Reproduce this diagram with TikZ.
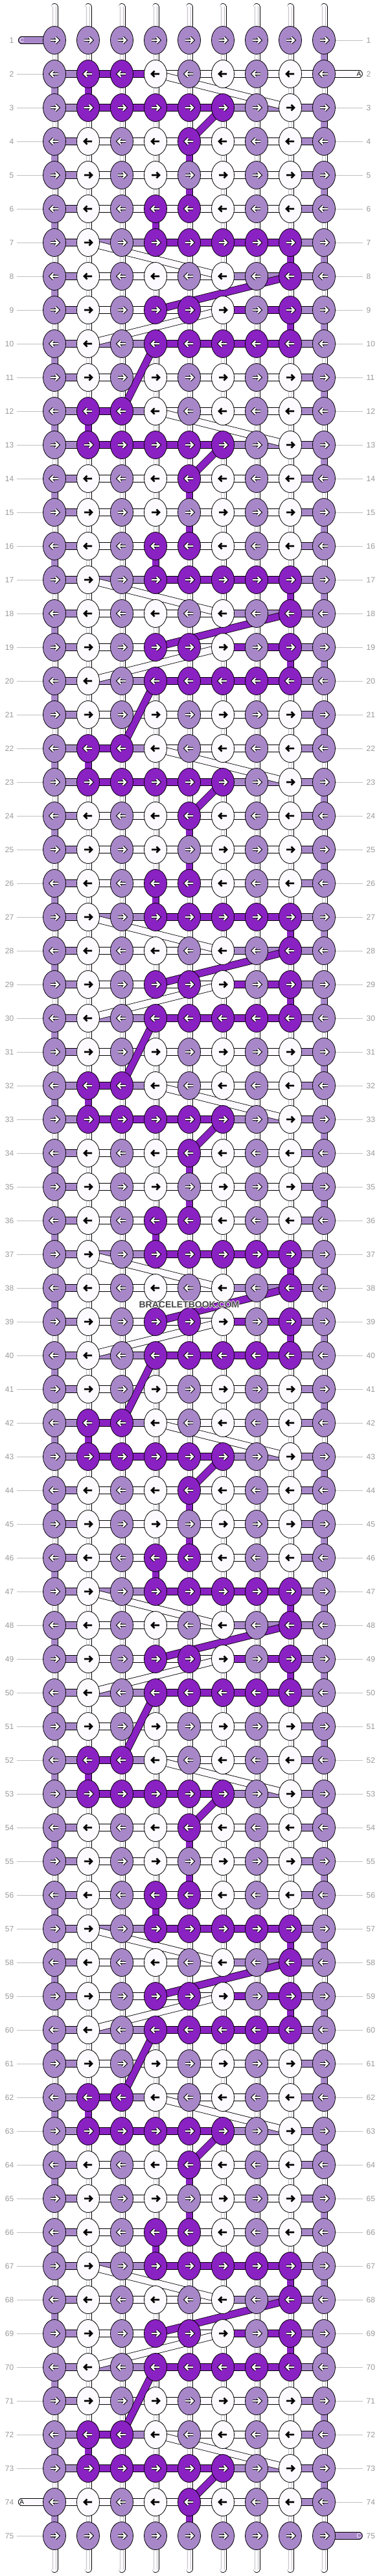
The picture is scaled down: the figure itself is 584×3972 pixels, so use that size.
\documentclass[tikz,border=0pt]{standalone}
\usepackage{fontspec}
\setmainfont{Liberation Sans}
\usetikzlibrary{shapes.geometric}

\definecolor{colL}{HTML}{A887C9}
\definecolor{colD}{HTML}{8A21C3}
\definecolor{colW}{HTML}{FCFAFE}
\definecolor{numgray}{HTML}{999999}
\definecolor{linegray}{HTML}{C0C0C0}
\definecolor{tubegray}{HTML}{C4C4C4}
\definecolor{markgray}{HTML}{454545}

\tikzset{
knot/.style={ellipse,draw=black,line width=0.8pt,minimum width=35pt,minimum height=43pt,inner sep=0pt},
thread/.style={draw=black,line width=0.8pt,double=#1,double distance=10pt},
vthread/.style={thread=#1,double distance=9.4pt},
tube/.style={draw=tubegray,line width=0.7pt,double=colW,double distance=4.2pt},
arrout/.style={draw=black,line width=4.4pt,line cap=square},
arrin/.style={draw=white,line width=2.2pt,line cap=square},
arrblk/.style={draw=black,line width=2.6pt},
rownum/.style={font=\fontsize{12}{12}\selectfont,text=numgray,inner sep=0pt},
rowline/.style={draw=linegray,line width=0.9pt},
endtag/.style={font=\fontsize{10}{10}\selectfont,inner sep=0pt}
}

\newcommand\arrowpath[2]{(#1) ++(-6*#2,0) -- ++(11*#2,0) (#1) ++(1.5*#2,-4.5) -- ++(4.5*#2,4.5) -- ++(-4.5*#2,4.5)}
\newcommand\halo[1]{\leavevmode
  \rlap{\hspace{-0.9pt}\textcolor{white}{#1}}\rlap{\hspace{0.9pt}\textcolor{white}{#1}}%
  \rlap{\raisebox{0.9pt}{\textcolor{white}{#1}}}\rlap{\raisebox{-0.9pt}{\textcolor{white}{#1}}}%
  #1}

% knots / horizontal threads / threads going down, rows 2 to 11
\newcommand\motif{%
0/{L,D,D,W,L,W,L,W,L}/{L,D,L,W,W,W,W,L}/{L,D,W,W,W,W,W,W,W},%
1/{L,D,D,D,D,D,L,W,L}/{L,D,D,D,D,L,L,L}/{W,W,W,W,W,W,W,W,L},%
2/{L,W,L,W,D,W,L,W,L}/{L,W,W,W,W,W,W,L}/{L,W,W,W,D,W,W,W,W},%
3/{L,W,L,W,L,W,L,W,L}/{L,W,W,W,W,W,W,L}/{W,W,W,W,D,W,W,W,L},%
4/{L,W,L,D,D,W,L,W,L}/{L,W,W,W,W,W,W,L}/{L,W,W,D,W,W,W,W,W},%
5/{L,W,L,D,D,D,D,D,L}/{L,L,L,D,D,D,D,L}/{W,W,W,W,W,W,W,D,L},%
6/{L,W,L,W,L,W,L,D,L}/{L,W,W,W,W,L,L,L}/{L,W,W,W,W,W,W,W,W},%
7/{L,W,L,D,D,W,L,D,L}/{L,W,W,W,W,D,D,L}/{W,W,W,W,W,W,W,D,L},%
8/{L,W,L,D,D,D,D,D,L}/{L,L,L,D,D,D,D,L}/{L,W,W,W,W,W,W,W,W},%
9/{L,W,L,W,L,W,L,W,L}/{L,W,W,W,W,W,W,L}/{W,W,W,W,W,W,W,W,L}}

\begin{document}
\begin{tikzpicture}[x=1pt,y=-1pt]
\fill[white] (0,0) rectangle (584,3972);
\useasboundingbox (0,0) rectangle (584,3972);

\foreach \n in {1,...,75}
  \foreach \i in {1,...,9}
    \coordinate (p-\n-\i) at ({32+52*\i},{10+52*\n});

\foreach \i in {1,...,9}{
  \coordinate (t-\i) at ({32+52*\i},10.5);
  \coordinate (b-\i) at ({32+52*\i},3961.5);
  \draw[vthread=colW,line cap=round] (t-\i) -- (p-1-\i);
  \draw[tube] (t-\i) -- (p-1-\i);
  \draw[vthread=colW,line cap=round] (p-75-\i) -- (b-\i);
  \draw[tube] (p-75-\i) -- (b-\i);
}

\foreach \n in {1,...,75}{
  \node[rownum,anchor=east] (ll-\n) at (21.5,{10+52*\n}) {\n};
  \node[rownum,anchor=west] (rl-\n) at (565.5,{10+52*\n}) {\n};
  \ifnum\n=1 \else\ifnum\n=74 \else \draw[rowline,shorten <=4.5pt] (ll-\n.east) -- (p-\n-1); \fi\fi
  \ifnum\n=2 \else\ifnum\n=75 \else \draw[rowline,shorten <=5.5pt] (rl-\n.west) -- (p-\n-9); \fi\fi
}

\foreach \n in {1,75}
  \foreach \i [evaluate=\i as \j using int(\i+1)] in {1,...,8}
    \draw[thread=colL] (p-\n-\i) -- (p-\n-\j);
\foreach \vc [count=\i] in {W,W,W,W,W,W,W,W,L}{
  \draw[vthread=col\vc] (p-1-\i) -- (p-2-\i);
  \if W\vc \draw[tube] (p-1-\i) -- (p-2-\i); \fi
}

\foreach \p/\kn/\hz/\vt in \motif {
  \foreach \k in {0,...,7}{
    \pgfmathtruncatemacro\n{2+10*\k+\p}
    \pgfmathtruncatemacro\m{\n+1}
    \ifnum\n<75
      \foreach \hc [count=\i] in \hz {
        \pgfmathtruncatemacro\j{\i+1}
        \draw[thread=col\hc] (p-\n-\i) -- (p-\n-\j);
      }
      \foreach \vc [count=\i] in \vt {
        \draw[vthread=col\vc] (p-\n-\i) -- (p-\m-\i);
        \if W\vc \draw[tube] (p-\n-\i) -- (p-\m-\i); \fi
      }
    \fi
  }
}

\draw[thread=colD] (p-2-3) -- (p-2-4);
\draw[thread=colW] (p-2-8) -- (p-2-9);
\draw[thread=colW] (p-74-1) -- (p-74-2);

\coordinate (endC1) at (33.75,62);
\coordinate (endA2) at (554,114);
\coordinate (endA74) at (33.75,3858);
\coordinate (endC75) at (554,3910);
\draw[thread=colL,line cap=round] (p-1-1) -- (endC1);
\draw[thread=colW,line cap=round] (p-2-9) -- (endA2);
\draw[thread=colW,line cap=round] (p-74-1) -- (endA74);
\draw[thread=colL,line cap=round] (p-75-9) -- (endC75);
\node[endtag,text=colW] (tagC1) at (endC1) {C};
\node[endtag] (tagA2) at (endA2) {A};
\node[endtag] (tagA74) at (endA74) {A};
\node[endtag,text=colW] (tagC75) at (endC75) {C};

\foreach \k in {0,...,7}
  \foreach \dc/\ra/\ca/\rb/\cb in {W/0/4/1/8,D/1/6/2/5,W/5/2/6/6,D/6/8/7/4,W/7/6/8/2,D/8/4/10/3}{
    \pgfmathtruncatemacro\na{2+10*\k+\ra}
    \pgfmathtruncatemacro\nb{2+10*\k+\rb}
    \ifnum\nb<75 \draw[thread=col\dc] (p-\na-\ca) -- (p-\nb-\cb); \fi
  }

\foreach \n in {1,75}
  \foreach \i in {1,...,9}{
    \node[knot,fill=colL] (k-\n-\i) at (p-\n-\i) {};
    \draw[arrout] \arrowpath{k-\n-\i}{1};
    \draw[arrin] \arrowpath{k-\n-\i}{1};
  }

\foreach \p/\kn/\hz/\vt in \motif {
  \foreach \k in {0,...,7}{
    \pgfmathtruncatemacro\n{2+10*\k+\p}
    \ifnum\n<75
      \pgfmathtruncatemacro\dir{1-2*mod(\n+1,2)}
      \foreach \kc [count=\i] in \kn {
        \node[knot,fill=col\kc] (k-\n-\i) at (p-\n-\i) {};
        \if W\kc
          \draw[arrblk] \arrowpath{k-\n-\i}{\dir};
        \else
          \draw[arrout] \arrowpath{k-\n-\i}{\dir};
          \draw[arrin] \arrowpath{k-\n-\i}{\dir};
        \fi
      }
    \fi
  }
}

\node[font=\bfseries\fontsize{14}{14}\selectfont,text=markgray] (mark) at (292,2012) {\halo{BRACELETBOOK.COM}};

\end{tikzpicture}
\end{document}
